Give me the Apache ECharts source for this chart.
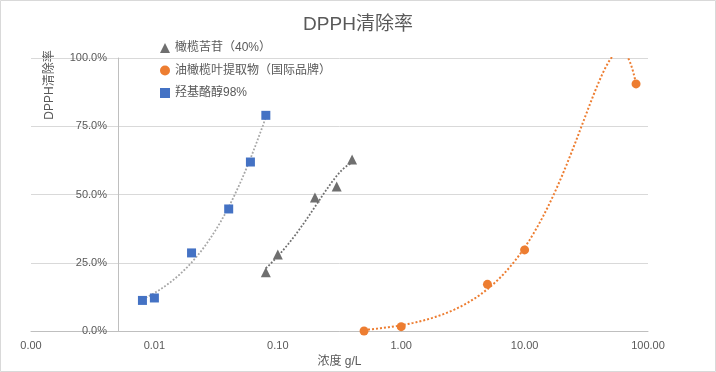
<!DOCTYPE html>
<html><head><meta charset="utf-8">
<script src="https://cdn.jsdelivr.net/npm/echarts@6/dist/echarts.min.js"></script>
<style>html,body{margin:0;padding:0;background:#fff}#c{width:716px;height:372px}</style>
</head><body><div id="c"></div>
<script>
// ---- data ----
const seriesNames = ['橄榄苦苷（40%）', '油橄榄叶提取物（国际品牌）', '羟基酪醇98%'];
const oleuropeinX = [0.08, 0.1, 0.2, 0.3, 0.4];
const oleuropeinY = [0.215, 0.28, 0.489, 0.529, 0.628];
const extractX = [0.5, 1, 5, 10, 80];
const extractY = [0.0, 0.016, 0.171, 0.297, 0.905];
const hydroxyX = [0.008, 0.01, 0.02, 0.04, 0.06, 0.08];
const hydroxyY = [0.112, 0.121, 0.286, 0.447, 0.619, 0.79];
const yTickLabels = ['0.0%', '25.0%', '50.0%', '75.0%', '100.0%'];
const titleText = 'DPPH清除率';
const xAxisTitle = '浓度 g/L';
const yAxisTitle = 'DPPH清除率';

// ---- polynomial (order 2) least-squares trendline, as Excel does ----
function polyfit(xs, ys, deg) {
  const n = deg + 1;
  const A = [], b = [];
  for (let i = 0; i < n; i++) {
    A.push([]);
    for (let j = 0; j < n; j++) A[i].push(xs.reduce((s, x) => s + Math.pow(x, i + j), 0));
    b.push(xs.reduce((s, x, k) => s + ys[k] * Math.pow(x, i), 0));
  }
  for (let c = 0; c < n; c++) {
    let p = c;
    for (let r = c + 1; r < n; r++) if (Math.abs(A[r][c]) > Math.abs(A[p][c])) p = r;
    [A[c], A[p]] = [A[p], A[c]]; [b[c], b[p]] = [b[p], b[c]];
    for (let r = 0; r < n; r++) {
      if (r === c) continue;
      const f = A[r][c] / A[c][c];
      for (let k = c; k < n; k++) A[r][k] -= f * A[c][k];
      b[r] -= f * b[c];
    }
  }
  return b.map((v, i) => v / A[i][i]);
}
function trend(xs, ys) {
  const co = polyfit(xs, ys, 2);
  const lo = Math.min(...xs), hi = Math.max(...xs);
  const out = [];
  const N = 200;
  for (let i = 0; i < N; i++) {
    const x = lo * Math.pow(hi / lo, i / (N - 1));
    out.push([x, co.reduce((s, c, k) => s + c * Math.pow(x, k), 0)]);
  }
  return out;
}
const pairs = (xs, ys) => xs.map((x, i) => [x, ys[i]]);

const FONT = '"Liberation Sans", "Noto Sans CJK SC", sans-serif';
const TXT = '#595959';

const chart = echarts.init(document.getElementById('c'), null, { renderer: 'canvas' });
chart.setOption({
  animation: false,
  backgroundColor: '#fff',
  textStyle: { fontFamily: FONT },
  title: {
    text: titleText, left: 'center', top: 10,
    textStyle: { fontFamily: FONT, fontSize: 19, fontWeight: 'normal', color: TXT }
  },
  legend: {
    orient: 'vertical', left: 155, top: 37,
    itemWidth: 10, itemHeight: 10, itemGap: 10.5,
    data: [
      { name: seriesNames[0], icon: 'triangle' },
      { name: seriesNames[1], icon: 'circle' },
      { name: seriesNames[2], icon: 'rect' }
    ],
    textStyle: { fontFamily: FONT, fontSize: 12, color: TXT }
  },
  graphic: [
    { type: 'rect', shape: { x: 0.5, y: 0.5, width: 715, height: 371 }, style: { fill: 'none', stroke: '#d9d9d9', lineWidth: 1 }, silent: true },
    { type: 'text', x: 50, y: 85, rotation: Math.PI / 2,
      style: { text: yAxisTitle, fill: TXT, font: '12px ' + FONT, align: 'center', verticalAlign: 'middle' } }
  ],
  grid: { left: 31, right: 68, top: 58, bottom: 41, containLabel: false, outerBoundsMode: 'none' },
  xAxis: {
    type: 'log', logBase: 10, min: 0.001, max: 100,
    name: xAxisTitle, nameLocation: 'middle', nameGap: 24,
    nameTextStyle: { fontFamily: FONT, fontSize: 12, color: TXT },
    axisLine: { lineStyle: { color: '#bfbfbf' } },
    axisTick: { show: false },
    splitLine: { show: false },
    axisLabel: { color: TXT, fontSize: 11, margin: 9, formatter: v => v.toFixed(2) }
  },
  yAxis: {
    type: 'value', min: 0, max: 1, interval: 0.25,
    offset: -87,
    axisLine: { show: true, lineStyle: { color: '#bfbfbf' } },
    axisTick: { show: false },
    splitLine: { lineStyle: { color: '#d9d9d9' } },
    axisLabel: { color: TXT, fontSize: 11, margin: 11, formatter: v => yTickLabels[Math.round(v * 4)] }
  },
  series: [
    { name: seriesNames[0] + ' trend', type: 'line', showSymbol: false, symbol: 'none', silent: true,
      data: trend(oleuropeinX, oleuropeinY), lineStyle: { color: '#6f6f6f', width: 1.8, type: [1.8, 1.8] }, z: 2 },
    { name: seriesNames[1] + ' trend', type: 'line', showSymbol: false, symbol: 'none', silent: true,
      data: trend(extractX, extractY), lineStyle: { color: '#ed7d31', width: 2, type: [2, 2] }, z: 2 },
    { name: seriesNames[2] + ' trend', type: 'line', showSymbol: false, symbol: 'none', silent: true,
      data: trend(hydroxyX, hydroxyY), lineStyle: { color: '#a6a6a6', width: 1.8, type: [1.8, 1.8] }, z: 2 },
    { name: seriesNames[0], type: 'scatter', symbol: 'triangle', symbolSize: 10,
      itemStyle: { color: '#6f6f6f', opacity: 1 }, data: pairs(oleuropeinX, oleuropeinY), z: 3 },
    { name: seriesNames[1], type: 'scatter', symbol: 'circle', symbolSize: 9,
      itemStyle: { color: '#ed7d31', opacity: 1 }, data: pairs(extractX, extractY), z: 3 },
    { name: seriesNames[2], type: 'scatter', symbol: 'rect', symbolSize: 9,
      itemStyle: { color: '#4472c4', opacity: 1 }, data: pairs(hydroxyX, hydroxyY), z: 3 }
  ]
});
</script></body></html>
